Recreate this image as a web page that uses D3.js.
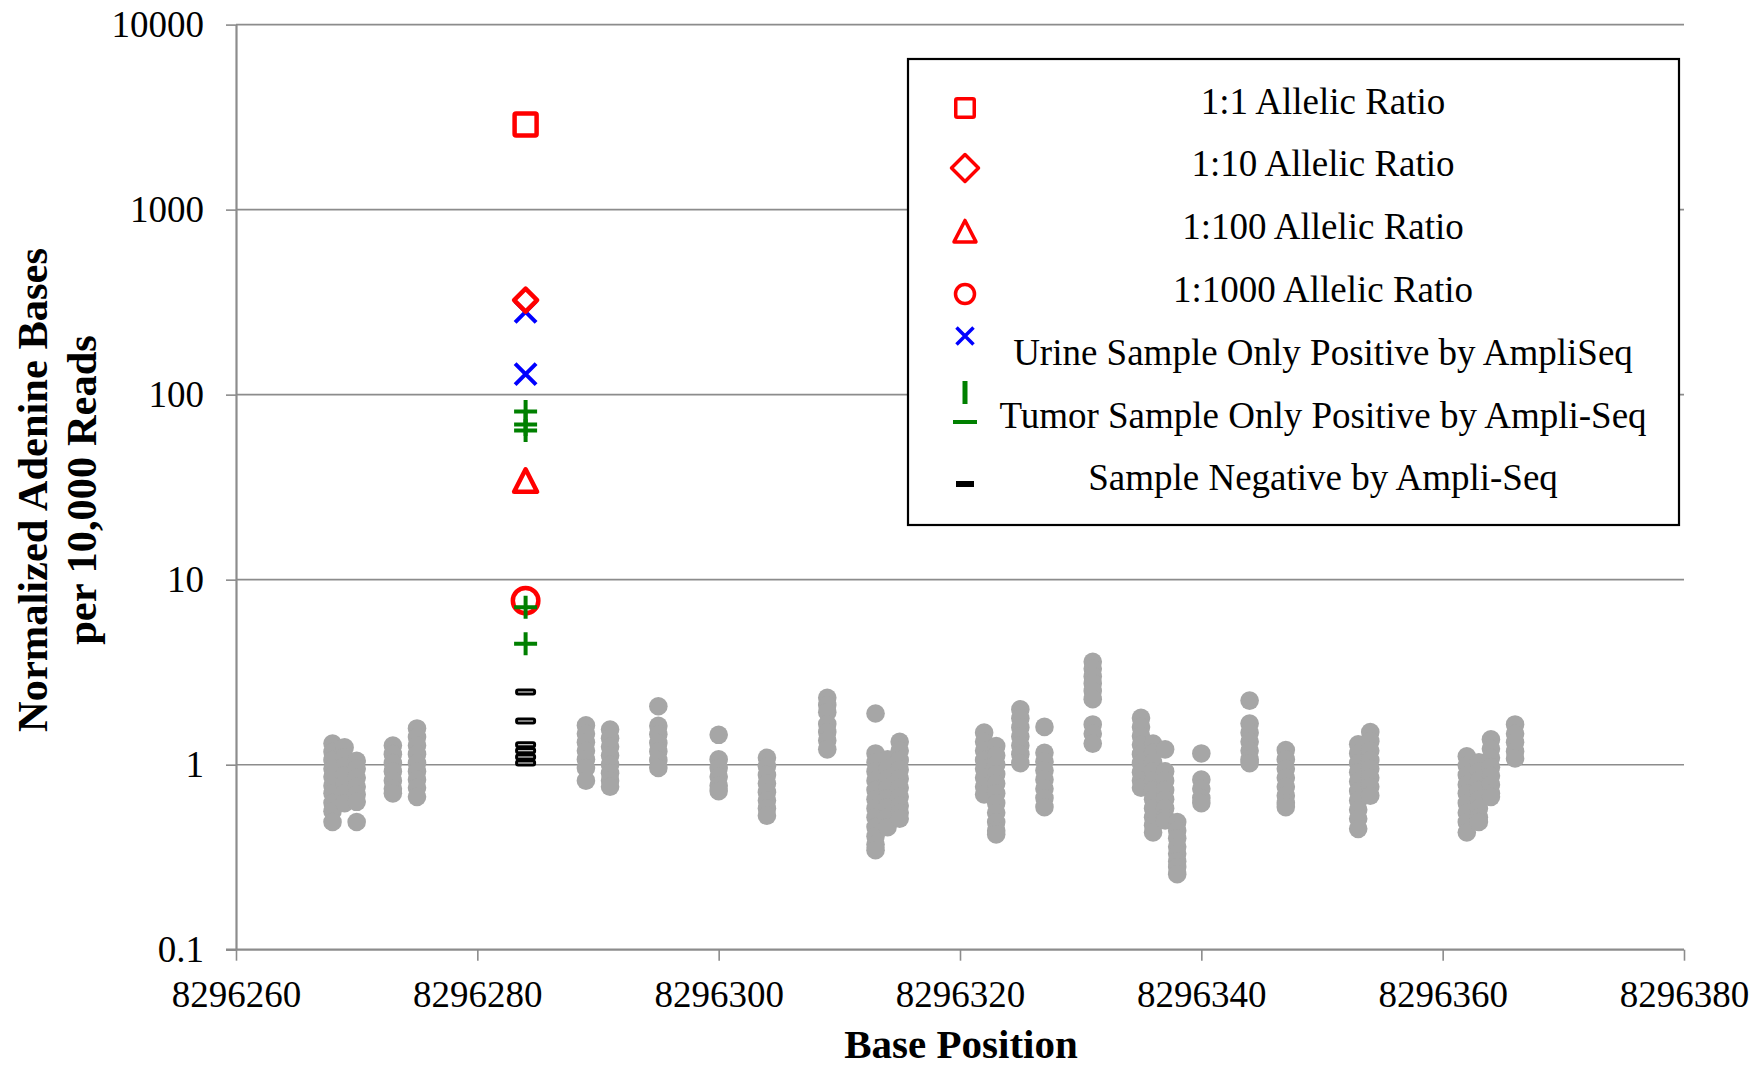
<html>
<head>
<meta charset="utf-8">
<style>
  body { margin: 0; background: #fff; }
  svg text { font-family: "Liberation Serif", "Times New Roman", serif; fill: #000; }
</style>
</head>
<body>
<div id="chart"></div>
<script src="https://cdn.jsdelivr.net/npm/d3@7/dist/d3.min.js"></script>
<script>
// ---- data ----
var xTicks = [8296260, 8296280, 8296300, 8296320, 8296340, 8296360, 8296380];
var yTicks = [0.1, 1, 10, 100, 1000, 10000];

var mutationPos = 8296284;
var ratio1to1 = [2880];
var ratio1to10 = [324];
var ratio1to100 = [34];
var ratio1to1000 = [7.7];
var urineOnly = [280, 129];
var tumorOnly = [81, 69, 64, 7.1, 4.5];
var negative = [2.47, 1.72, 1.28, 1.19, 1.10, 1.02];

// background (non-mutated) positions and their normalized counts
var bgPositions = [8296268, 8296269, 8296270, 8296273, 8296275, 8296289, 8296291, 8296295,
  8296300, 8296304, 8296309, 8296313, 8296314, 8296315, 8296322, 8296323, 8296325, 8296327,
  8296331, 8296335, 8296336, 8296337, 8296338, 8296340, 8296344, 8296347, 8296353, 8296354,
  8296362, 8296363, 8296364, 8296366];
var bgValues = [
  [1.30, 1.17, 1.06, 0.95, 0.86, 0.77, 0.70, 0.62, 0.56, 0.49],
  [1.24, 1.10, 0.98, 0.88, 0.79, 0.70, 0.62],
  [1.05, 0.95, 0.85, 0.76, 0.69, 0.63, 0.49],
  [1.27, 1.14, 1.02, 0.92, 0.82, 0.74, 0.70],
  [1.57, 1.41, 1.27, 1.14, 1.02, 0.92, 0.83, 0.75, 0.67],
  [1.63, 1.47, 1.32, 1.19, 1.07, 0.96, 0.82],
  [1.55, 1.39, 1.25, 1.12, 1.00, 0.90, 0.82, 0.76],
  [2.07, 1.62, 1.46, 1.31, 1.18, 1.06, 0.96],
  [1.45, 1.07, 0.96, 0.86, 0.77, 0.72],
  [1.09, 0.98, 0.88, 0.79, 0.71, 0.64, 0.58, 0.53],
  [2.30, 2.10, 1.92, 1.66, 1.50, 1.35, 1.21],
  [1.89, 1.15, 1.03, 0.92, 0.82, 0.73, 0.65, 0.58, 0.52, 0.46, 0.41, 0.37, 0.345],
  [1.07, 0.95, 0.84, 0.75, 0.66, 0.59, 0.52, 0.46],
  [1.33, 1.19, 1.06, 0.94, 0.84, 0.75, 0.67, 0.60, 0.55, 0.51],
  [1.49, 1.33, 1.19, 1.06, 0.95, 0.85, 0.76, 0.69],
  [1.26, 1.12, 1.00, 0.89, 0.79, 0.70, 0.62, 0.55, 0.49, 0.44, 0.42],
  [1.99, 1.78, 1.59, 1.42, 1.27, 1.14, 1.02],
  [1.60, 1.16, 1.04, 0.93, 0.83, 0.74, 0.66, 0.59],
  [3.60, 3.30, 3.00, 2.75, 2.50, 2.26, 1.65, 1.47, 1.30],
  [1.79, 1.60, 1.43, 1.28, 1.14, 1.02, 0.91, 0.82, 0.75],
  [1.30, 1.16, 1.03, 0.92, 0.82, 0.73, 0.65, 0.58, 0.52, 0.47, 0.43],
  [1.21, 0.92, 0.82, 0.73, 0.65, 0.58, 0.52, 0.50],
  [0.49, 0.44, 0.40, 0.36, 0.33, 0.30, 0.28, 0.256],
  [1.15, 0.83, 0.74, 0.66, 0.62],
  [2.22, 1.67, 1.49, 1.33, 1.19, 1.07, 1.02],
  [1.20, 1.07, 0.95, 0.85, 0.76, 0.68, 0.62, 0.59],
  [1.29, 1.15, 1.02, 0.91, 0.81, 0.72, 0.64, 0.57, 0.51, 0.45],
  [1.50, 1.34, 1.19, 1.06, 0.95, 0.85, 0.76, 0.68],
  [1.11, 0.99, 0.88, 0.78, 0.70, 0.62, 0.55, 0.49, 0.43],
  [1.03, 0.92, 0.82, 0.73, 0.65, 0.58, 0.52, 0.49],
  [1.37, 1.22, 1.09, 0.97, 0.87, 0.78, 0.70, 0.67],
  [1.65, 1.47, 1.32, 1.18, 1.08]
];

var legendLabels = ["1:1 Allelic Ratio", "1:10 Allelic Ratio", "1:100 Allelic Ratio",
  "1:1000 Allelic Ratio", "Urine Sample Only Positive by AmpliSeq",
  "Tumor Sample Only Positive by Ampli-Seq", "Sample Negative by Ampli-Seq"];

// ---- layout ----
var W = 1752, H = 1066;
var plotLeft = 236, plotRight = 1684, plotTop = 24.6, plotBottom = 949.7;
var gridColor = "#8c8c8c";
var red = "#ff0000", blue = "#0000ff", green = "#008000";

var svg = d3.select("#chart").append("svg")
  .attr("width", W).attr("height", H);

var x = d3.scaleLinear().domain([8296260, 8296380]).range([plotLeft, plotRight]);
var y = d3.scaleLog().domain([0.1, 10000]).range([plotBottom, plotTop]);

// gridlines
svg.append("g").selectAll("line")
  .data(yTicks.slice(1))
  .enter().append("line")
  .attr("x1", plotLeft).attr("x2", plotRight)
  .attr("y1", function(d){ return y(d); })
  .attr("y2", function(d){ return y(d); })
  .attr("stroke", gridColor).attr("stroke-width", 1.6);

// y axis
var yAxis = svg.append("g")
  .attr("transform", "translate(" + plotLeft + ",0)")
  .call(d3.axisLeft(y).tickValues(yTicks).tickFormat(d3.format("~g"))
    .tickSize(10).tickSizeOuter(0).tickPadding(22));
yAxis.select(".domain").attr("stroke", gridColor).attr("stroke-width", 2.2);
yAxis.selectAll(".tick line").attr("stroke", gridColor).attr("stroke-width", 1.6);
yAxis.selectAll(".tick text").attr("font-size", 37).style("font-family", "Liberation Serif");

// x axis
var xAxis = svg.append("g")
  .attr("transform", "translate(0," + plotBottom + ")")
  .call(d3.axisBottom(x).tickValues(xTicks).tickFormat(d3.format("d"))
    .tickSize(11).tickSizeOuter(0));
xAxis.select(".domain").attr("stroke", gridColor).attr("stroke-width", 2.2)
  .attr("d", "M" + (plotLeft - 10) + ",0H" + plotRight);
xAxis.selectAll(".tick line").attr("stroke", gridColor).attr("stroke-width", 1.6);
xAxis.selectAll(".tick text").attr("font-size", 37).attr("y", 57).attr("dy", 0)
  .style("font-family", "Liberation Serif");

// axis titles
svg.append("text")
  .attr("x", 961).attr("y", 1058)
  .attr("text-anchor", "middle")
  .attr("font-size", 41).attr("font-weight", "bold")
  .text("Base Position");

var yTitle = svg.append("text")
  .attr("transform", "translate(47,490) rotate(-90)")
  .attr("text-anchor", "middle")
  .attr("font-size", 42.5).attr("font-weight", "bold");
yTitle.append("tspan").attr("x", 0).attr("y", 0).text("Normalized Adenine Bases");
yTitle.append("tspan").attr("x", 0).attr("y", 49).text("per 10,000 Reads");

// ---- marker helpers ----
function drawMarker(g, type, s, color, sw) {
  var h = s / 2;
  if (type === "square") {
    g.append("rect").attr("x", -h).attr("y", -h).attr("width", s).attr("height", s).attr("rx", 1.5)
      .attr("fill", "none").attr("stroke", color).attr("stroke-width", sw);
  } else if (type === "diamond") {
    g.append("path").attr("d", "M0," + (-h) + "L" + h + ",0L0," + h + "L" + (-h) + ",0Z")
      .attr("fill", "none").attr("stroke", color).attr("stroke-width", sw).attr("stroke-linejoin", "round");
  } else if (type === "triangle") {
    g.append("path").attr("d", "M0," + (-h * 1.05) + "L" + h + "," + (h * 0.9) + "L" + (-h) + "," + (h * 0.9) + "Z")
      .attr("fill", "none").attr("stroke", color).attr("stroke-width", sw).attr("stroke-linejoin", "round");
  } else if (type === "circle") {
    g.append("circle").attr("r", h)
      .attr("fill", "none").attr("stroke", color).attr("stroke-width", sw);
  } else if (type === "x") {
    g.append("path").attr("d", "M" + (-h) + "," + (-h) + "L" + h + "," + h + "M" + h + "," + (-h) + "L" + (-h) + "," + h)
      .attr("stroke", color).attr("stroke-width", sw);
  } else if (type === "plus") {
    g.append("path").attr("d", "M0," + (-h) + "V" + h + "M" + (-h) + ",0H" + h)
      .attr("stroke", color).attr("stroke-width", sw);
  } else if (type === "dash") {
    g.append("rect").attr("x", -h).attr("y", -2).attr("width", s).attr("height", 4).attr("rx", 1.5)
      .attr("fill", "#fff").attr("stroke", color).attr("stroke-width", sw);
  }
}

function drawSeries(vals, type, s, color, sw) {
  var g = svg.append("g");
  vals.forEach(function(v){
    var m = g.append("g").attr("transform", "translate(" + x(mutationPos) + "," + y(v) + ")");
    drawMarker(m, type, s, color, sw);
  });
}

// background gray dots
var bgPoints = [];
bgPositions.forEach(function(p, i){
  bgValues[i].forEach(function(v){ bgPoints.push({pos: p, val: v}); });
});
svg.append("g").selectAll("circle")
  .data(bgPoints)
  .enter().append("circle")
  .attr("cx", function(d){ return x(d.pos); })
  .attr("cy", function(d){ return y(d.val); })
  .attr("r", 9.3)
  .attr("fill", "#a6a6a6");

// mutation position series
drawSeries(negative, "dash", 18, "#000", 3);
drawSeries(urineOnly, "x", 21, blue, 4);
drawSeries(ratio1to1, "square", 22, red, 4.5);
drawSeries(ratio1to10, "diamond", 23, red, 4.5);
drawSeries(ratio1to100, "triangle", 23, red, 4.5);
drawSeries(ratio1to1000, "circle", 25.5, red, 4.5);
drawSeries(tumorOnly, "plus", 23, green, 4);

// ---- legend ----
var lg = svg.append("g");
lg.append("rect")
  .attr("x", 908).attr("y", 59).attr("width", 771).attr("height", 466)
  .attr("fill", "#fff").attr("stroke", "#000").attr("stroke-width", 2.2);

lg.selectAll("text.lab")
  .data(legendLabels)
  .enter().append("text")
  .attr("class", "lab")
  .attr("x", 1323)
  .attr("y", function(d, i){ return 101 + i * 62.8; })
  .attr("dy", "0.34em")
  .attr("text-anchor", "middle")
  .attr("font-size", 37)
  .text(function(d){ return d; });

var lx = 965;
function legendMarker(yy, type, s, color, sw) {
  var m = lg.append("g").attr("transform", "translate(" + lx + "," + yy + ")");
  drawMarker(m, type, s, color, sw);
}
legendMarker(108, "square", 18.5, red, 3.5);
legendMarker(168, "diamond", 27, red, 3.5);
legendMarker(232, "triangle", 22, red, 3.5);
legendMarker(294, "circle", 19, red, 3.5);
legendMarker(336, "x", 17, blue, 3.5);
lg.append("rect").attr("x", lx - 2.5).attr("y", 381).attr("width", 5).attr("height", 23).attr("fill", green);
lg.append("rect").attr("x", lx - 12).attr("y", 420).attr("width", 24).attr("height", 4).attr("fill", green);
lg.append("rect").attr("x", lx - 9).attr("y", 481).attr("width", 18).attr("height", 6).attr("fill", "#000");
</script>
</body>
</html>
